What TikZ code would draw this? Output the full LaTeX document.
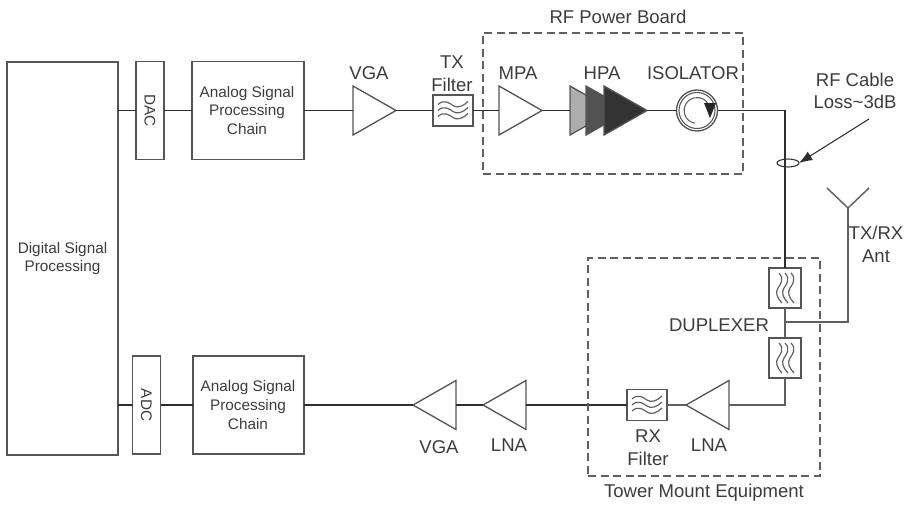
\documentclass[tikz,border=0pt]{standalone}
\usepackage{fontspec}
\setmainfont{Liberation Sans}
\usetikzlibrary{shapes.geometric,arrows.meta}
\definecolor{boxc}{HTML}{555555}
\definecolor{linec}{HTML}{2E2E2E}
\definecolor{greyc}{HTML}{606060}
\definecolor{txtc}{HTML}{3C3C3C}
\tikzset{
  sz/.style 2 args={minimum width=#1*0.75pt,minimum height=#2*0.75pt},
  box/.style={draw=boxc,line width=1.1pt,inner sep=0pt,outer sep=0pt,rectangle},
  small/.style={text=txtc,inner sep=0pt,align=center,font=\fontsize{11.5}{13.9}\selectfont},
  lab/.style={text=txtc,inner sep=0pt,align=center,font=\fontsize{13.9}{17}\selectfont},
  amp/.style={isosceles triangle,isosceles triangle stretches,inner sep=0pt,outer sep=0pt,
     minimum height=43*0.75pt,minimum width=49*0.75pt,draw=boxc,line width=1pt,fill=white},
  ampl/.style={amp,shape border rotate=180},
  wire/.style={draw=linec,line width=1.4pt},
  gwire/.style={draw=greyc,line width=1.1pt},
  dashbox/.style={draw=greyc,line width=1pt,dash pattern=on 6pt off 3.4pt},
  pics/waves/.style={code={
    \foreach \o in {-6,0,6}{
      \draw[draw=greyc,line width=.9pt] (-15,\o) .. controls (-9,\o-6) and (-3,\o-1) .. (0,\o+1)
        .. controls (4,\o+4) and (10,\o+2) .. (15,\o-3);
    }}}
}
\begin{document}
\begin{tikzpicture}[x=0.75pt,y=-0.75pt]
\useasboundingbox (0,0) rectangle (910,508);
% boxes
\node[box,sz={111}{393}] (dsp) at (62.5,258.5) {};
\node[small] (dsptxt) at (62.5,258.5) {Digital Signal\\Processing};
\node[box,sz={28}{98}] (dac) at (150,110.5) {};
\node[small,rotate=-90] (dactxt) at (150,110.5) {DAC};
\node[box,sz={28}{98}] (adc) at (146.5,405) {};
\node[small,rotate=-90] (adctxt) at (146.5,405) {ADC};
\node[box,sz={112}{98}] (aspt) at (248,110.5) {};
\node[small] (aspttxt) at (247,110.5) {Analog Signal\\Processing\\Chain};
\node[box,sz={111}{98}] (aspb) at (248.5,405) {};
\node[small] (aspbtxt) at (248,405) {Analog Signal\\Processing\\Chain};
% amplifiers
\node[amp,anchor=lower side] (vgat) at (353,110.5) {};
\node[box,sz={40}{31}] (txf) at (453,110.5) {};
\pic at (txf) {waves};
\node[amp,anchor=lower side] (mpa) at (499,110.5) {};
\node[amp,anchor=lower side,fill=black!32] (hpa1) at (570,110.5) {};
\node[amp,anchor=lower side,fill=black!68] (hpa2) at (586,110.5) {};
\node[amp,anchor=lower side,fill=black!80] (hpa3) at (604,110.5) {};
% isolator
\node[circle,draw=boxc,line width=1pt,minimum size=41*0.75pt,inner sep=0pt,outer sep=0pt] (iso) at (697,110.5) {};
\node[circle,draw=boxc,line width=.8pt,minimum size=36*0.75pt,inner sep=0pt,outer sep=0pt] (isoin) at (697,110.5) {};
\draw[draw=greyc,line width=.8pt] (iso.center) ++(100:13) arc[start angle=100,end angle=350,radius=13];
\fill[black!85] (704,103) -- (716,103) -- (710,118) -- cycle;
% duplexer
\node[box,sz={32}{40}] (dupt) at (785,288) {};
\pic[rotate=-90] at (dupt) {waves};
\node[box,sz={32}{40}] (dupb) at (785,358) {};
\pic[rotate=-90] at (dupb) {waves};
\coordinate (junc) at (785,322);
\coordinate (ant) at (848,208);
\coordinate (antl) at (827,188);
\coordinate (antr) at (869,188);
\coordinate (arrowstart) at (869,119);
\node[draw=linec,line width=.8pt,ellipse,minimum width=22*0.75pt,minimum height=8*0.75pt,inner sep=0pt,outer sep=0pt] (oval) at (788,163) {};
% lower chain
\node[ampl,anchor=lower side] (lnar) at (729,405) {};
\node[box,sz={40}{31}] (rxf) at (647,405) {};
\pic at (rxf) {waves};
\node[ampl,anchor=lower side] (lnal) at (526,405) {};
\node[ampl,anchor=lower side] (vgab) at (456,405) {};
% wires
\draw[wire] (dsp.east |- dac.west) -- (dac.west);
\draw[wire] (dac.east) -- (aspt.west);
\draw[wire] (aspt.east) -- (vgat.lower side);
\draw[wire] (vgat.apex) -- (txf.west);
\draw[wire] (txf.east) -- (mpa.lower side);
\draw[wire] (mpa.apex) -- (hpa1.lower side);
\draw[wire] (hpa3.apex) -- (iso.west);
\draw[wire] (iso.east) -| (dupt.north);
\draw[gwire] (dupt.south) -- (dupb.north);
\draw[gwire] (junc) -| (ant);
\draw[gwire] (ant) -- (antl);
\draw[gwire] (ant) -- (antr);
\draw[gwire] (dupb.south) |- (lnar.lower side);
\draw[gwire] (lnar.apex) -- (rxf.east);
\draw[wire] (rxf.west) -- (lnal.lower side);
\draw[wire] (lnal.apex) -- (vgab.lower side);
\draw[wire] (vgab.apex) -- (aspb.east);
\draw[wire] (aspb.west) -- (adc.east);
\draw[wire] (adc.west) -- (dsp.east |- adc.west);
% dashed groups
\node[dashbox,rectangle,sz={260}{141},inner sep=0pt,outer sep=0pt] (rfb) at (613,103.5) {};
\node[dashbox,rectangle,sz={232}{218},inner sep=0pt,outer sep=0pt] (tow) at (704,367) {};
% labels
\node[lab] (l1) at (618,17) {RF Power Board};
\node[lab] (l2) at (369,73) {VGA};
\node[lab] (l3) at (452,73.5) {TX\\Filter};
\node[lab] (l4) at (518,73) {MPA};
\node[lab] (l5) at (602,73) {HPA};
\node[lab] (l6) at (693,73) {ISOLATOR};
\node[lab] (cable) at (855,91) {RF Cable\\Loss\textasciitilde 3dB};
\node[lab] (l8) at (876,244.5) {TX/RX\\Ant};
\node[lab] (l9) at (719,325) {DUPLEXER};
\node[lab] (l10) at (648,447.5) {RX\\Filter};
\node[lab] (l11) at (709,445) {LNA};
\node[lab] (l12) at (704,493) {Tower Mount Equipment};
\node[lab] (l13) at (439,447) {VGA};
\node[lab] (l14) at (509,445) {LNA};
\draw[draw=linec,line width=.8pt,-{Latex[length=10pt,width=7.5pt]}] (arrowstart) -- (oval.east);
\end{tikzpicture}
\end{document}
